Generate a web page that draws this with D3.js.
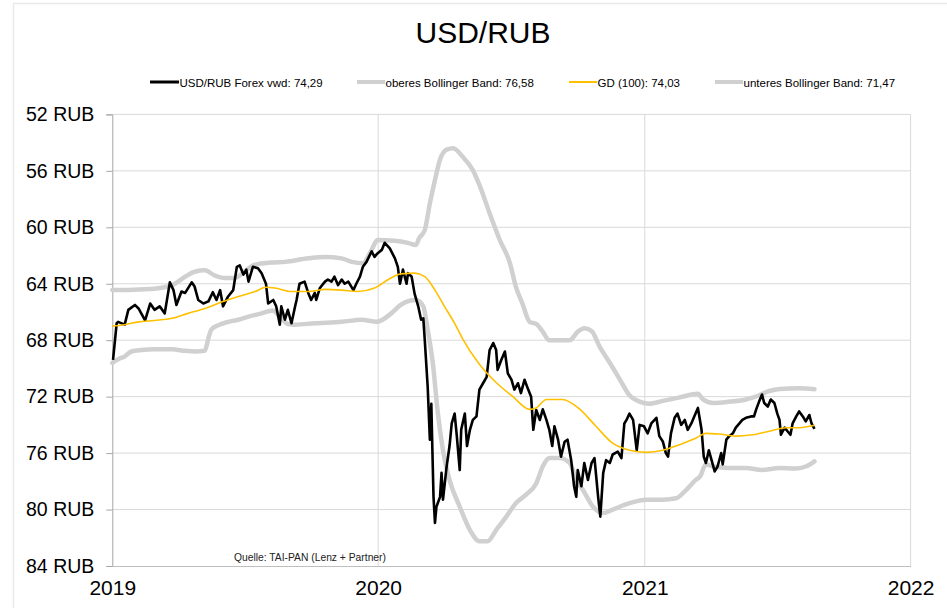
<!DOCTYPE html>
<html>
<head>
<meta charset="utf-8">
<script src="https://cdn.jsdelivr.net/npm/d3@7"></script>
<style>
  html, body { margin: 0; padding: 0; background: #fff; }
  svg { display: block; font-family: "Liberation Sans", Arial, sans-serif; }
</style>
</head>
<body>
<svg id="chart" width="947" height="608"></svg>
<script>
// USD/RUB daily close (vwd), 2019 – Aug 2021
const priceDates = [
  "2019-01-02","2019-01-07","2019-01-09","2019-01-18","2019-01-23","2019-02-01","2019-02-06","2019-02-15","2019-02-22","2019-02-28",
  "2019-03-07","2019-03-14","2019-03-21","2019-03-26","2019-03-30","2019-04-06","2019-04-11","2019-04-20","2019-04-24","2019-04-29",
  "2019-05-06","2019-05-13","2019-05-19","2019-05-24","2019-05-29","2019-06-02","2019-06-09","2019-06-16","2019-06-21","2019-06-25",
  "2019-06-30","2019-07-04","2019-07-07","2019-07-13","2019-07-20","2019-07-25","2019-07-31","2019-08-03","2019-08-10","2019-08-14",
  "2019-08-19","2019-08-21","2019-08-26","2019-08-30","2019-09-04","2019-09-09","2019-09-11","2019-09-15","2019-09-22","2019-09-27",
  "2019-10-01","2019-10-06","2019-10-08","2019-10-13","2019-10-20","2019-10-24","2019-10-29","2019-11-02","2019-11-07","2019-11-12",
  "2019-11-16","2019-11-21","2019-11-28","2019-12-02","2019-12-07","2019-12-11","2019-12-16","2019-12-23","2019-12-27","2019-12-31",
  "2020-01-06","2020-01-10","2020-01-17","2020-01-24","2020-01-28","2020-01-31","2020-02-04","2020-02-09","2020-02-11","2020-02-16",
  "2020-02-20","2020-02-25","2020-02-29","2020-03-03","2020-03-05","2020-03-09","2020-03-12","2020-03-14","2020-03-15","2020-03-17",
  "2020-03-19","2020-03-21","2020-03-26","2020-03-28","2020-03-30","2020-04-04","2020-04-08","2020-04-11","2020-04-15","2020-04-18",
  "2020-04-22","2020-04-24","2020-04-29","2020-05-02","2020-05-06","2020-05-10","2020-05-15","2020-05-19","2020-05-24","2020-05-29",
  "2020-06-02","2020-06-07","2020-06-11","2020-06-13","2020-06-18","2020-06-23","2020-06-27","2020-07-02","2020-07-06","2020-07-11",
  "2020-07-15","2020-07-20","2020-07-25","2020-07-29","2020-08-01","2020-08-05","2020-08-10","2020-08-14","2020-08-19","2020-08-23",
  "2020-08-27","2020-08-30","2020-09-04","2020-09-08","2020-09-13","2020-09-17","2020-09-22","2020-09-26","2020-09-29","2020-10-01",
  "2020-10-06","2020-10-10","2020-10-15","2020-10-20","2020-10-24","2020-10-29","2020-11-01","2020-11-05","2020-11-09","2020-11-14",
  "2020-11-18","2020-11-25","2020-11-30","2020-12-04","2020-12-07","2020-12-11","2020-12-16","2020-12-21","2020-12-25","2020-12-31",
  "2021-01-05","2021-01-10","2021-01-17","2021-01-21","2021-01-26","2021-01-30","2021-02-02","2021-02-06","2021-02-11","2021-02-15",
  "2021-02-20","2021-02-25","2021-03-01","2021-03-06","2021-03-10","2021-03-15","2021-03-20","2021-03-23","2021-03-26","2021-03-30",
  "2021-04-02","2021-04-07","2021-04-11","2021-04-16","2021-04-18","2021-04-23","2021-04-27","2021-05-02","2021-05-06","2021-05-11",
  "2021-05-15","2021-05-20","2021-05-27","2021-05-31","2021-06-03","2021-06-07","2021-06-11","2021-06-14","2021-06-19","2021-06-23",
  "2021-06-28","2021-07-02","2021-07-05","2021-07-07","2021-07-12","2021-07-16","2021-07-20","2021-07-23","2021-07-28","2021-08-01",
  "2021-08-06","2021-08-10","2021-08-15","2021-08-18","2021-08-22"
];
const priceValues = [
  69.4,66.8,66.7,66.9,65.85,65.5,65.75,66.6,65.4,65.85,
  65.6,66.1,63.9,64.45,65.5,64.55,64.65,63.9,64.2,65.15,
  65.4,65.25,64.6,65.15,64.45,65.6,64.9,64.45,62.8,62.7,
  63.35,63.0,63.85,62.8,62.9,63.25,64.0,65.4,65.15,65.6,
  66.9,65.6,66.55,65.85,66.8,65.6,65.15,64.0,63.85,64.65,
  65.15,64.65,65.15,64.3,63.85,63.7,63.85,63.5,64.1,63.7,
  64.0,63.85,64.45,64.0,63.5,62.8,62.45,61.7,62.1,61.85,
  61.6,61.1,61.5,62.2,62.8,64.0,63.0,64.0,63.25,63.5,
  64.7,65.6,66.55,66.45,68.0,71.3,75.05,72.5,74.8,79.1,
  80.95,79.8,79.1,77.4,79.3,76.95,75.5,73.9,73.2,74.8,
  77.2,74.35,73.2,75.5,74.35,73.65,73.4,71.5,71.05,70.6,
  68.7,68.2,68.7,70.1,69.4,68.8,70.35,70.8,71.5,71.05,
  71.75,70.8,71.5,72.0,74.35,72.95,73.65,72.9,73.65,74.35,
  75.5,74.1,75.05,76.25,75.2,75.05,76.5,78.35,79.1,77.2,
  78.35,76.7,77.9,76.7,76.35,79.1,80.5,77.4,76.5,76.7,
  76.1,75.9,76.35,73.9,73.65,73.2,73.65,75.8,74.0,74.1,
  74.6,73.9,73.5,74.8,75.2,76.0,76.25,74.6,73.5,73.2,
  74.0,73.65,74.35,73.9,73.4,72.8,74.35,76.25,76.7,75.8,
  76.35,77.3,76.95,76.0,76.8,75.05,74.8,74.6,74.2,73.9,
  73.65,73.5,73.4,73.4,72.9,72.35,71.85,72.45,72.7,72.2,
  72.45,73.2,73.65,74.7,74.2,74.45,74.7,73.9,73.4,73.05,
  73.4,73.75,73.3,73.9,74.29
];

// 100-day moving average (GD 100)
const maDates = [
  "2019-01-01","2019-01-18","2019-02-06","2019-02-28","2019-03-24","2019-04-15","2019-05-08","2019-05-31","2019-06-23","2019-07-16",
  "2019-07-31","2019-08-12","2019-09-04","2019-09-27","2019-10-20","2019-11-12","2019-12-04","2019-12-27","2020-01-15","2020-02-01",
  "2020-02-20","2020-03-05","2020-03-19","2020-04-01","2020-04-15","2020-04-26","2020-05-19","2020-06-11","2020-07-04","2020-07-27",
  "2020-08-05","2020-08-19","2020-09-10","2020-10-03","2020-10-26","2020-11-18","2020-12-11","2021-01-03","2021-01-26","2021-02-18",
  "2021-03-12","2021-03-26","2021-04-13","2021-05-06","2021-05-29","2021-06-21","2021-07-14","2021-08-01","2021-08-22"
];
const maValues = [
  67.0,66.9,66.7,66.6,66.45,66.1,65.75,65.3,64.9,64.55,
  64.25,64.3,64.55,64.55,64.4,64.45,64.55,64.3,63.7,63.3,
  63.25,63.5,64.45,65.6,66.8,67.9,69.7,71.0,72.0,72.9,
  72.8,72.2,72.2,72.85,74.1,75.3,75.8,75.95,75.8,75.4,
  74.95,74.6,74.65,74.8,74.7,74.45,74.2,74.2,74.03
];

// upper Bollinger band (oberes Band)
const upperDates = [
  "2019-01-01","2019-01-11","2019-01-18","2019-01-27","2019-02-10","2019-02-28","2019-03-24","2019-04-11","2019-04-24","2019-05-08",
  "2019-05-13","2019-05-17","2019-05-26","2019-06-09","2019-06-23","2019-07-06","2019-07-25","2019-08-09","2019-08-19","2019-08-30",
  "2019-09-09","2019-10-06","2019-11-12","2019-12-09","2019-12-30","2020-01-19","2020-02-01","2020-02-13","2020-02-22","2020-03-03",
  "2020-03-09","2020-03-16","2020-03-23","2020-03-30","2020-04-08","2020-04-22","2020-05-06","2020-05-19","2020-05-30","2020-06-11",
  "2020-06-25","2020-07-08","2020-07-22","2020-08-05","2020-08-14","2020-08-23","2020-09-06","2020-09-20","2020-09-29","2020-10-08",
  "2020-10-22","2020-11-05","2020-11-18","2020-12-11","2021-01-03","2021-01-26","2021-02-13","2021-02-27","2021-03-12","2021-03-18",
  "2021-03-26","2021-04-05","2021-04-28","2021-05-20","2021-06-11","2021-07-05","2021-07-26","2021-08-10","2021-08-22"
];
const upperValues = [
  69.6,69.3,69.15,68.8,68.7,68.65,68.65,68.75,68.8,68.75,
  67.85,67.25,66.95,66.7,66.55,66.35,66.1,65.9,66.3,66.85,
  66.9,66.8,66.7,66.55,66.7,66.1,65.5,65.2,65.15,65.6,
  67.25,69.6,73.2,75.8,77.9,79.8,81.45,82.25,82.25,81.45,
  80.5,79.55,78.95,78.15,76.95,76.35,76.35,76.7,77.9,78.6,
  79.8,80.25,80.0,79.55,79.3,79.3,79.2,78.6,77.9,77.65,
  76.8,76.95,77.05,77.05,77.2,77.05,77.1,76.95,76.58
];

// lower Bollinger band (unteres Band)
const lowerDates = [
  "2019-01-01","2019-01-18","2019-02-06","2019-02-28","2019-03-24","2019-04-11","2019-04-24","2019-05-08","2019-05-21","2019-06-04",
  "2019-06-18","2019-07-01","2019-07-16","2019-08-07","2019-08-26","2019-09-27","2019-10-20","2019-11-12","2019-11-26","2019-12-11",
  "2019-12-23","2019-12-31","2020-01-24","2020-02-11","2020-02-22","2020-02-26","2020-03-05","2020-03-12","2020-03-19","2020-03-26",
  "2020-04-04","2020-04-13","2020-04-26","2020-05-10","2020-05-19","2020-06-02","2020-06-16","2020-06-30","2020-07-08","2020-07-17",
  "2020-07-27","2020-08-05","2020-08-14","2020-08-23","2020-09-06","2020-09-20","2020-10-01","2020-10-10","2020-10-20","2020-10-31",
  "2020-11-14","2020-11-28","2020-12-11","2020-12-25","2021-01-07","2021-01-26","2021-02-18","2021-03-15","2021-03-22","2021-04-05",
  "2021-04-28","2021-05-20","2021-06-07","2021-06-21","2021-07-05","2021-08-01","2021-08-22"
];
const lowerValues = [
  64.45,64.45,64.4,64.35,64.1,63.5,63.15,63.05,63.4,63.6,
  63.6,63.15,62.65,62.5,62.45,62.2,62.1,62.2,62.45,62.55,
  61.6,60.9,60.95,61.1,61.25,60.8,60.2,58.3,56.65,55.2,
  54.5,54.4,55.0,55.95,57.0,59.0,60.9,62.55,64.2,65.4,
  66.7,66.85,67.4,68.0,68.0,68.0,67.4,67.15,67.35,68.45,
  69.6,70.8,71.9,72.35,72.5,72.3,72.05,71.8,72.2,72.45,
  72.35,72.2,71.9,71.6,71.45,71.4,71.47
];

const yTicks = [52, 56, 60, 64, 68, 72, 76, 80, 84];
const xTickLabels = ["2019", "2020", "2021", "2022"];
const legendLabels = [
  "USD/RUB Forex vwd: 74,29",
  "oberes Bollinger Band: 76,58",
  "GD (100): 74,03",
  "unteres Bollinger Band: 71,47"
];
const titleText = "USD/RUB";
const sourceText = "Quelle: TAI-PAN (Lenz + Partner)";

const parse = d3.timeParse("%Y-%m-%d");
const zip = (ds, vs) => ds.map((d, i) => ({ date: parse(d), value: vs[i] }));
const price = zip(priceDates, priceValues);
const ma = zip(maDates, maValues);
const upper = zip(upperDates, upperValues);
const lower = zip(lowerDates, lowerValues);

const svg = d3.select("#chart");
const plot = { left: 112.3, right: 910.6, top: 114.4, bottom: 566 };

const x = d3.scaleTime()
  .domain([new Date(2019, 0, 1), new Date(2022, 0, 1)])
  .range([plot.left, plot.right]);
// value axis runs downward: 52 at the top, 84 at the bottom
const y = d3.scaleLinear()
  .domain([52, 84])
  .range([plot.top, plot.bottom]);

// faint outer frame
svg.append("path")
  .attr("d", "M13.5,620 V3.5 H950")
  .attr("fill", "none")
  .attr("stroke", "#e9e9e9")
  .attr("stroke-width", 1.5);

// title
svg.append("text")
  .attr("x", 483).attr("y", 43)
  .attr("text-anchor", "middle")
  .attr("font-size", 30)
  .attr("fill", "#000")
  .text(titleText);

// horizontal gridlines
svg.append("g")
  .selectAll("line")
  .data(yTicks.slice(0, -1))
  .join("line")
  .attr("x1", plot.left).attr("x2", plot.right)
  .attr("y1", d => y(d)).attr("y2", d => y(d))
  .attr("stroke", "#d9d9d9").attr("stroke-width", 1);

// vertical gridlines at year starts
const yearDates = xTickLabels.map(s => new Date(+s, 0, 1));
svg.append("g")
  .selectAll("line")
  .data(yearDates.slice(1))
  .join("line")
  .attr("x1", d => x(d)).attr("x2", d => x(d))
  .attr("y1", plot.top).attr("y2", plot.bottom)
  .attr("stroke", "#d9d9d9").attr("stroke-width", 1);

// left value axis
const yAxis = d3.axisLeft(y)
  .tickValues(yTicks)
  .tickSize(6)
  .tickPadding(12)
  .tickFormat(d => d + " RUB");
const gy = svg.append("g")
  .attr("transform", `translate(${plot.left},0)`)
  .call(yAxis);
gy.select(".domain").attr("stroke", "#a6a6a6");
gy.selectAll(".tick line").attr("stroke", "#a6a6a6");
gy.selectAll(".tick text")
  .attr("font-size", 19.5)
  .attr("font-family", "Liberation Sans, Arial, sans-serif")
  .attr("fill", "#000");

// bottom time axis
const xAxis = d3.axisBottom(x)
  .tickValues(yearDates)
  .tickSize(0)
  .tickPadding(14)
  .tickFormat(d3.timeFormat("%Y"));
const gx = svg.append("g")
  .attr("transform", `translate(0,${plot.bottom})`)
  .call(xAxis);
gx.select(".domain").attr("stroke", "#bfbfbf");
gx.selectAll(".tick text")
  .attr("font-size", 21)
  .attr("font-family", "Liberation Sans, Arial, sans-serif")
  .attr("fill", "#000");

// series
const line = d3.line()
  .x(d => x(d.date))
  .y(d => y(d.value))
  .curve(d3.curveLinear);
const smooth = d3.line()
  .x(d => x(d.date))
  .y(d => y(d.value))
  .curve(d3.curveMonotoneX);

const bandStyle = { stroke: "#d0d0d0", width: 4.5 };
[upper, lower].forEach(series => {
  svg.append("path")
    .datum(series)
    .attr("d", smooth)
    .attr("fill", "none")
    .attr("stroke", bandStyle.stroke)
    .attr("stroke-width", bandStyle.width)
    .attr("stroke-linejoin", "round")
    .attr("stroke-linecap", "round");
});

svg.append("path")
  .datum(price)
  .attr("d", line)
  .attr("fill", "none")
  .attr("stroke", "#000")
  .attr("stroke-width", 2.6)
  .attr("stroke-linejoin", "round");

svg.append("path")
  .datum(ma)
  .attr("d", smooth)
  .attr("fill", "none")
  .attr("stroke", "#ffc000")
  .attr("stroke-width", 1.6);

// source note
svg.append("text")
  .attr("x", 234).attr("y", 561)
  .attr("font-size", 10.3)
  .attr("fill", "#222")
  .text(sourceText);

// legend
const legendItems = [
  { x1: 150, x2: 179, color: "#000", width: 3 },
  { x1: 357, x2: 385, color: "#d0d0d0", width: 4 },
  { x1: 569, x2: 597, color: "#ffc000", width: 2 },
  { x1: 715, x2: 743, color: "#d0d0d0", width: 4 }
];
const lg = svg.append("g");
legendItems.forEach((it, i) => {
  lg.append("line")
    .attr("x1", it.x1).attr("x2", it.x2)
    .attr("y1", 82).attr("y2", 82)
    .attr("stroke", it.color)
    .attr("stroke-width", it.width);
  lg.append("text")
    .attr("x", it.x2 + 0.5).attr("y", 86.5)
    .attr("font-size", 11.5)
    .attr("fill", "#000")
    .text(legendLabels[i]);
});
</script>
</body>
</html>
